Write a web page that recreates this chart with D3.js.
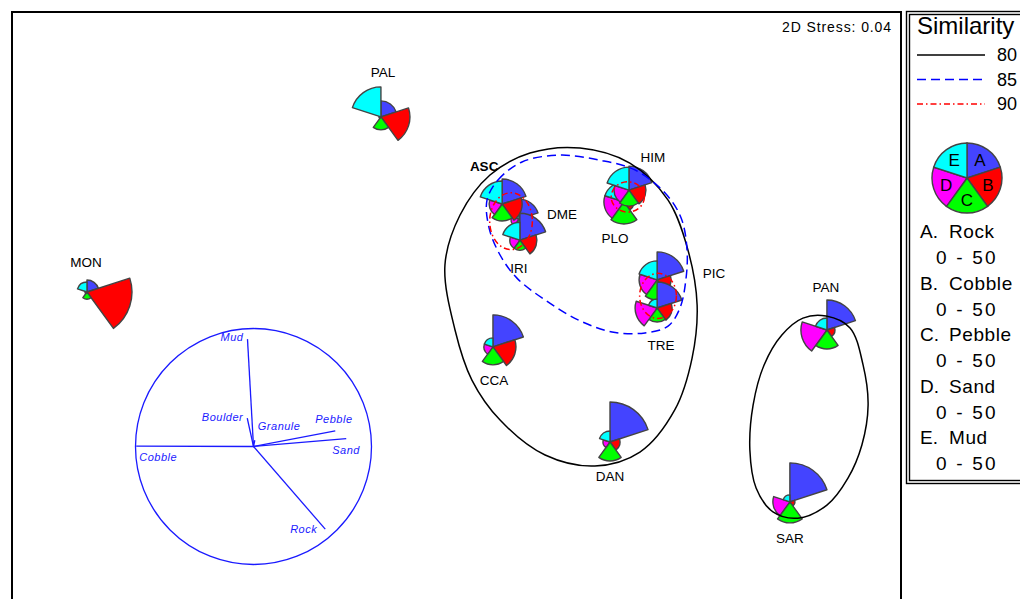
<!DOCTYPE html>
<html><head><meta charset="utf-8">
<script src="https://cdn.jsdelivr.net/npm/d3@7"></script>
<style>
html,body{margin:0;padding:0;background:#fff;}
svg{display:block;}
text{font-family:"Liberation Sans",Arial,sans-serif;}
</style></head><body>
<svg id="chart" width="1020" height="599"></svg>
<script>
// ---- Data -------------------------------------------------------------
// Sites in drawing order, with their 2D MDS coordinates
const sites = ["PAL","MON","DME","ASC","IRI","PLO","HIM","PIC","TRE","CCA","DAN","PAN","SAR"];
const mdsX  = [-0.255,-1.247,0.211,0.154,0.214,0.565,0.582,0.677,0.677,0.123,0.518,1.250,1.125];
const mdsY  = [ 0.646, 0.055,0.301,0.352,0.230,0.359,0.399,0.096,0.001,-0.130,-0.451,-0.073,-0.653];

// Substrate cover per site (segment scale 0 - 50)
const rock   = [16,12,20,25,27,12,24,28,26,32,40,30,39];
const cobble = [29,45,14,20,17,10,17,14,15,23,10, 8, 5];
const pebble = [13, 7,12,17,10,22,16,20,14,18,19,19,21];
const sand   = [ 2, 2, 8,13,10,20,15,18,22, 9, 7,26,17];
const mud    = [30,10,14,23,18,20,23,19, 9, 9,11,12, 7];

const variables = ["Rock","Cobble","Pebble","Sand","Mud"];
const letters   = ["A","B","C","D","E"];
const segScale  = [0, 50];
const stress    = "0.04";

// Similarity contours (cluster levels, %)
const levels = [80, 85, 90];
// 80%: large group and PAN/SAR group (closed curves in MDS units)
const contour80a = [[-0.039,0.146],[-0.005,-0.073],[0.052,-0.242],[0.147,-0.377],[0.299,-0.495],
  [0.467,-0.532],[0.619,-0.485],[0.737,-0.342],[0.795,-0.168],[0.812,0.011],[0.781,0.197],
  [0.714,0.365],[0.585,0.490],[0.417,0.541],[0.248,0.524],[0.113,0.450],[0.012,0.315]];
const contour80b = [[1.247,-0.026],[1.328,-0.066],[1.372,-0.191],[1.389,-0.326],[1.368,-0.461],
  [1.321,-0.573],[1.250,-0.664],[1.152,-0.708],[1.068,-0.687],[1.011,-0.606],[0.990,-0.478],
  [1.001,-0.326],[1.038,-0.191],[1.098,-0.090],[1.169,-0.033]];
// 85%
const contour85 = [[0.103,0.365],[0.140,0.433],[0.221,0.494],[0.349,0.517],[0.484,0.500],
  [0.602,0.467],[0.704,0.389],[0.758,0.305],[0.778,0.197],[0.774,0.096],[0.754,0.001],
  [0.714,-0.060],[0.636,-0.083],[0.525,-0.080],[0.410,-0.039],[0.299,0.028],[0.204,0.102],
  [0.147,0.180],[0.110,0.271]];
// 90%: small groups as ellipses (centre x, centre y, radius x, radius y)
const contour90 = [[0.184,0.294,0.072,0.096],[0.578,0.376,0.056,0.051],[0.680,0.042,0.062,0.076]];

// Environmental vectors (correlations with MDS axes)
const vecNames = ["Mud","Boulder","Granule","Pebble","Sand","Cobble","Rock"];
const vecX     = [-0.051,-0.053,0.011,0.693,0.786,-0.994,0.608];
const vecY     = [ 0.910, 0.240,0.053,0.133,0.066, 0.003,-0.700];

// ---- Layout -----------------------------------------------------------
const W = 1020, H = 599;
const frame = {l: 12, t: 12, r: 901};
const colors = ["#4444ff","#ff0000","#00ff00","#ff00ff","#00ffff"];
const outline = "#444444";
const labelOffset = {
  PAL:[2,-40], MON:[-1,-25], ASC:[-18,-33], DME:[43,0], IRI:[-1,33], HIM:[24,-28],
  PLO:[-9,41], PIC:[57,-2], TRE:[4,42], CCA:[1,38], DAN:[0,39], PAN:[-1,-38], SAR:[0,41]
};
const lineStyles = {
  80: {stroke:"#000000", dash:null},
  85: {stroke:"#0000ff", dash:"9,5"},
  90: {stroke:"#ff0000", dash:"6,3,1.5,3"}
};

const svg = d3.select("#chart");
svg.append("rect").attr("width", W).attr("height", H).attr("fill", "#fff");

const x = d3.scaleLinear().domain([-1.5, 1.5]).range([frame.l, frame.r]);
const y = d3.scaleLinear().domain([1, -1]).range([frame.t, frame.t + (frame.r - frame.l) * 2 / 3]);
const rScale = d3.scaleLinear().domain(segScale).range([0, 50]);
const segAngle = d3.scaleLinear().domain([0, variables.length]).range([0, 2 * Math.PI]);

// plot frame
svg.append("rect").attr("x", frame.l).attr("y", frame.t)
  .attr("width", frame.r - frame.l).attr("height", 700)
  .attr("fill", "none").attr("stroke", "#000").attr("stroke-width", 2);

// ---- Vector plot ------------------------------------------------------
const vOrigin = [253.5, 446.5], vR = 118;
const vs = d3.scaleLinear().domain([-1, 1]).range([-vR, vR]);
const vg = svg.append("g").attr("transform", `translate(${vOrigin[0]},${vOrigin[1]})`);
vg.append("circle").attr("r", vs(1)).attr("fill", "none").attr("stroke", "#1a1aff").attr("stroke-width", 1.3);
const vecs = vecNames.map((n, i) => ({name: n, x: vecX[i], y: vecY[i]}));
vg.selectAll("line.vec").data(vecs).join("line").attr("class", "vec")
  .attr("x1", 0).attr("y1", 0)
  .attr("x2", d => vs(d.x)).attr("y2", d => -vs(d.y))
  .attr("stroke", "#1a1aff").attr("stroke-width", 1.3);
const vLabelPos = {
  Mud:[-4,-2,"end"], Boulder:[-4,-1,"end"], Granule:[3,-14,"start"], Pebble:[-20,-12,"start"],
  Sand:[-14,11,"start"], Cobble:[3,11,"start"], Rock:[-8,0,"end"]
};
vg.selectAll("text.vec").data(vecs).join("text").attr("class", "vec")
  .attr("x", d => vs(d.x) + vLabelPos[d.name][0])
  .attr("y", d => -vs(d.y) + vLabelPos[d.name][1] + 4)
  .attr("text-anchor", d => vLabelPos[d.name][2])
  .attr("font-size", 11).attr("font-style", "italic").attr("letter-spacing", 0.5)
  .attr("fill", "#1a1aff").text(d => d.name);

// ---- Segmented bubbles ------------------------------------------------
const arc = d3.arc().innerRadius(0);
const siteData = sites.map((s, i) => ({
  site: s, cx: x(mdsX[i]), cy: y(mdsY[i]),
  values: [rock[i], cobble[i], pebble[i], sand[i], mud[i]]
}));
const glyphs = svg.selectAll("g.site").data(siteData).join("g").attr("class", "site")
  .attr("transform", d => `translate(${d.cx},${d.cy})`);
glyphs.selectAll("path").data(d => d.values.map((v, k) => ({v, k}))).join("path")
  .attr("d", d => arc({outerRadius: rScale(d.v), startAngle: segAngle(d.k), endAngle: segAngle(d.k + 1)}))
  .attr("fill", d => colors[d.k]).attr("stroke", outline).attr("stroke-width", 1.4)
  .attr("stroke-linejoin", "round");

// ---- Contours ---------------------------------------------------------
const curve = d3.line().x(p => x(p[0])).y(p => y(p[1])).curve(d3.curveCatmullRomClosed.alpha(0.5));
[contour80a, contour80b].forEach(c => svg.append("path").attr("d", curve(c))
  .attr("fill", "none").attr("stroke", lineStyles[80].stroke).attr("stroke-width", 1.5));
svg.append("path").attr("d", curve(contour85)).attr("fill", "none")
  .attr("stroke", lineStyles[85].stroke).attr("stroke-width", 1.5).attr("stroke-dasharray", lineStyles[85].dash);
contour90.forEach(e => svg.append("ellipse")
  .attr("cx", x(e[0])).attr("cy", y(e[1]))
  .attr("rx", x(e[2]) - x(0)).attr("ry", y(0) - y(e[3]))
  .attr("fill", "none").attr("stroke", lineStyles[90].stroke).attr("stroke-width", 1.5)
  .attr("stroke-dasharray", lineStyles[90].dash));

// ---- Site labels ------------------------------------------------------
svg.selectAll("text.site").data(siteData).join("text").attr("class", "site")
  .attr("x", d => d.cx + labelOffset[d.site][0])
  .attr("y", d => d.cy + labelOffset[d.site][1])
  .attr("text-anchor", "middle").attr("font-size", 13.5)
  .attr("font-weight", d => d.site === "ASC" ? "bold" : "normal")
  .text(d => d.site);

svg.append("text").attr("x", 892).attr("y", 32).attr("text-anchor", "end")
  .attr("font-size", 14).attr("letter-spacing", 0.9).text("2D Stress: " + stress);

// ---- Legend -----------------------------------------------------------
const lg = svg.append("g");
lg.append("rect").attr("x", 906.5).attr("y", 11.5).attr("width", 130).attr("height", 472)
  .attr("fill", "#fff").attr("stroke", "#000").attr("stroke-width", 1.4);
lg.append("rect").attr("x", 909.5).attr("y", 14.5).attr("width", 130).attr("height", 466)
  .attr("fill", "none").attr("stroke", "#000").attr("stroke-width", 1.4);
lg.append("text").attr("x", 917).attr("y", 34).attr("font-size", 24).text("Similarity");
levels.forEach((lv, i) => {
  const ly = 55 + i * 24.5;
  lg.append("line").attr("x1", 917).attr("x2", 985).attr("y1", ly).attr("y2", ly)
    .attr("stroke", lineStyles[lv].stroke).attr("stroke-width", 1.5)
    .attr("stroke-dasharray", lineStyles[lv].dash);
  lg.append("text").attr("x", 997).attr("y", ly + 6).attr("font-size", 18).text(lv);
});
const pie = lg.append("g").attr("transform", "translate(967,178)");
variables.forEach((v, k) => {
  pie.append("path")
    .attr("d", arc({outerRadius: 35, startAngle: segAngle(k), endAngle: segAngle(k + 1)}))
    .attr("fill", colors[k]).attr("stroke", outline).attr("stroke-width", 1.4);
  const mid = (segAngle(k) + segAngle(k + 1)) / 2;
  pie.append("text").attr("x", 22 * Math.sin(mid)).attr("y", -22 * Math.cos(mid) + 6)
    .attr("text-anchor", "middle").attr("font-size", 17).text(letters[k]);
});
variables.forEach((v, k) => {
  const ly = 231 + k * 51.5;
  lg.append("text").attr("x", 920).attr("y", ly + 7).attr("font-size", 19).text(letters[k] + ".");
  lg.append("text").attr("x", 949).attr("y", ly + 7).attr("font-size", 19).attr("letter-spacing", 0.6).text(v);
  lg.append("text").attr("x", 936).attr("y", ly + 26 + 7).attr("font-size", 19).attr("letter-spacing", 2.2)
    .text(segScale[0] + " - " + segScale[1]);
});
</script></body></html>
